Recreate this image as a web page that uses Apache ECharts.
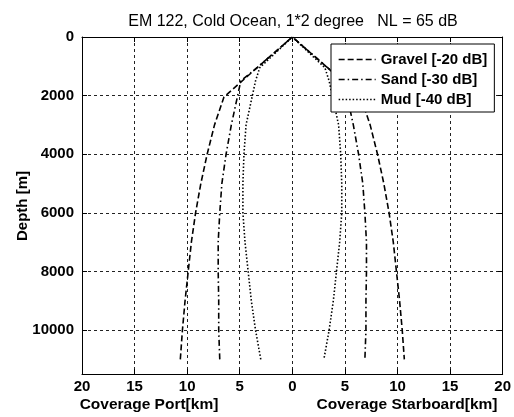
<!DOCTYPE html>
<html><head><meta charset="utf-8">
<script src="https://cdn.jsdelivr.net/npm/echarts@6/dist/echarts.min.js"></script>
<style>html,body{margin:0;padding:0;background:#fff}#c{width:514px;height:417px}</style>
</head><body><div id="c"></div>
<script>
const titleText = 'EM 122, Cold Ocean, 1*2 degree   NL = 65 dB';
const seriesNames = ['Gravel [-20 dB]', 'Sand [-30 dB]', 'Mud [-40 dB]'];
const xTicks = [-20, -15, -10, -5, 0, 5, 10, 15, 20];
const yTicks = [0, 2000, 4000, 6000, 8000, 10000];

// depth [m] and coverage [km] (one side; drawn to port and starboard)
const gravelDepth = [0, 1000, 2050, 3000, 4000, 5000, 6000, 7000, 8000, 9000, 10000, 11000];
const gravelCov   = [0, 3.2, 6.5, 7.4, 8.1, 8.7, 9.2, 9.6, 9.9, 10.2, 10.45, 10.65];
const sandDepth   = [0, 1000, 1500, 2000, 3000, 4000, 5000, 6000, 7000, 8000, 9000, 10000, 11000];
const sandCov     = [0, 3.2, 4.9, 5.2, 5.8, 6.3, 6.7, 6.9, 7.05, 7.05, 7.0, 7.0, 6.9];
const mudDepth    = [0, 1050, 1500, 2000, 3000, 4000, 5000, 6000, 7000, 8000, 9000, 10000, 11000];
const mudCov      = [0, 3.1, 3.5, 3.8, 4.4, 4.6, 4.7, 4.7, 4.5, 4.2, 3.9, 3.5, 3.0];

function both(depth, cov) {
  const pts = [];
  for (let i = depth.length - 1; i >= 1; i--) pts.push([-cov[i], depth[i]]);
  for (let i = 0; i < depth.length; i++) pts.push([cov[i], depth[i]]);
  return pts;
}

const FONT = 'Liberation Sans, Arial, sans-serif';
const chart = echarts.init(document.getElementById('c'), null, {renderer: 'canvas'});
const grid = {left: 82, right: 9, top: 37, bottom: 43};
const tickStyle = {show: true, inside: true, length: 5, lineStyle: {color: '#000'}};
const lineTypes = [[6, 3], [6, 3, 1.5, 3], [1.5, 2]];
const dataSets = [both(gravelDepth, gravelCov), both(sandDepth, sandCov), both(mudDepth, mudCov)];

chart.setOption({
  animation: false,
  backgroundColor: '#fff',
  title: {text: titleText, left: 288, top: 9, textAlign: 'center',
    textStyle: {fontFamily: FONT, fontSize: 16, fontWeight: 'normal', color: '#000'}},
  grid: grid,
  legend: {
    orient: 'vertical', left: 331, top: 44,
    backgroundColor: '#fff', borderColor: '#000', borderWidth: 1,
    padding: [8, 7, 5, 7], itemGap: 5, itemWidth: 37, itemHeight: 16,
    itemStyle: {opacity: 0},
    lineStyle: {opacity: 1, width: 1.3},
    textStyle: {fontFamily: FONT, fontSize: 15, fontWeight: 'bold', color: '#000'},
    data: seriesNames
  },
  xAxis: [{
    type: 'value', min: -20, max: 20, interval: 5, position: 'bottom',
    axisLine: {show: true, onZero: false, lineStyle: {color: '#000'}},
    axisTick: tickStyle,
    axisLabel: {color: '#000', fontFamily: FONT, fontSize: 15, fontWeight: 'bold', margin: 5,
      formatter: v => String(Math.abs(v))},
    splitLine: {show: true, lineStyle: {color: '#222', type: [3, 3], width: 1}}
  }, {
    type: 'value', min: -20, max: 20, interval: 5, position: 'top',
    axisLine: {show: true, onZero: false, lineStyle: {color: '#000'}},
    axisTick: tickStyle, axisLabel: {show: false}, splitLine: {show: false}
  }],
  yAxis: [{
    type: 'value', min: 0, max: 11500, interval: 2000, inverse: true, position: 'left',
    axisLine: {show: true, onZero: false, lineStyle: {color: '#000'}},
    axisTick: tickStyle,
    axisLabel: {color: '#000', fontFamily: FONT, fontSize: 15, fontWeight: 'bold', margin: 8,
      formatter: v => (yTicks.indexOf(v) >= 0 ? String(v) : '')},
    splitLine: {show: true, lineStyle: {color: '#222', type: [3, 3], width: 1}}
  }, {
    type: 'value', min: 0, max: 11500, interval: 2000, inverse: true, position: 'right',
    axisLine: {show: true, onZero: false, lineStyle: {color: '#000'}},
    axisTick: tickStyle, axisLabel: {show: false}, splitLine: {show: false}
  }],
  graphic: [
    {type: 'text', x: 149, y: 405, style: {text: 'Coverage Port[km]', font: 'bold 15.5px ' + FONT,
      fill: '#000', textAlign: 'center', textVerticalAlign: 'middle'}},
    {type: 'text', x: 407, y: 405, style: {text: 'Coverage Starboard[km]', font: 'bold 15.5px ' + FONT,
      fill: '#000', textAlign: 'center', textVerticalAlign: 'middle'}},
    {type: 'text', x: 23, y: 206, rotation: Math.PI / 2, style: {text: 'Depth [m]', font: 'bold 15px ' + FONT,
      fill: '#000', textAlign: 'center', textVerticalAlign: 'middle'}}
  ],
  series: seriesNames.map((n, i) => ({
    name: n, type: 'line', data: dataSets[i], showSymbol: false, symbol: 'none',
    smooth: false, color: '#000',
    lineStyle: {color: '#000', width: 1.6, type: lineTypes[i]}
  }))
});
</script></body></html>
